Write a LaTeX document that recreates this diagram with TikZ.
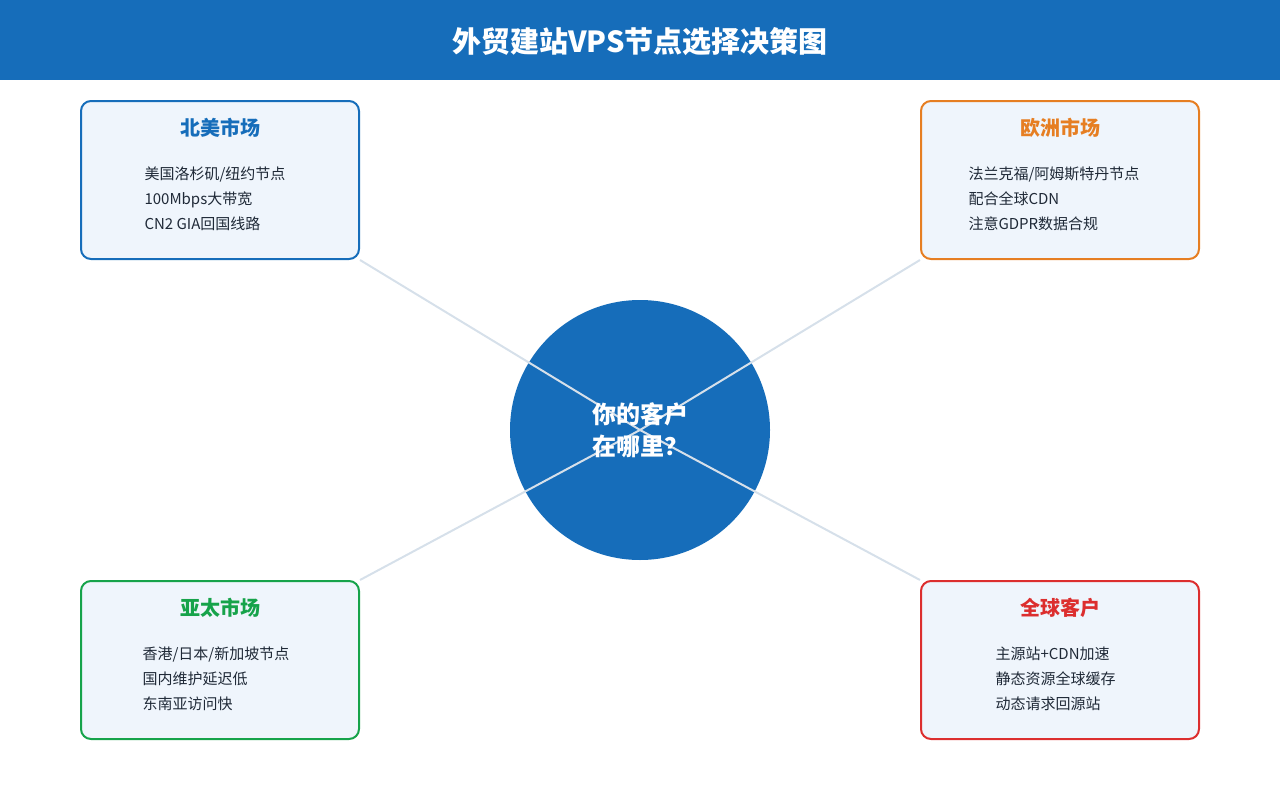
\documentclass[tikz,border=0pt]{standalone}
\usepackage{fontspec}
\setmainfont{Noto Sans CJK SC}
\usetikzlibrary{positioning}
\definecolor{hdrblue}{HTML}{166DBA}
\definecolor{nablue}{HTML}{166DBA}
\definecolor{euorange}{HTML}{E67E22}
\definecolor{apgreen}{HTML}{16A34A}
\definecolor{glred}{HTML}{DC2E2E}
\definecolor{boxfill}{HTML}{EFF5FC}
\definecolor{linkgray}{HTML}{D6E0EA}
\definecolor{bodytext}{HTML}{1F2937}
\begin{document}
\begin{tikzpicture}[
        x=1pt, y=-1pt,
        market/.style={
            draw,
            line width=2pt,
            rounded corners=10pt,
            fill=boxfill,
            minimum width=278pt,
            minimum height=158pt
        },
        heading/.style={font=\bfseries\fontsize{20}{24}\selectfont},
        items/.style={align=left, text=bodytext, font=\fontsize{15}{25}\selectfont},
        link/.style={draw=linkgray, line width=2pt}
    ]
    \useasboundingbox (0,0) rectangle (1280,800);
    \fill[hdrblue] (0,0) rectangle (1280,80);
    \node[text=white, font=\bfseries\fontsize{29}{34}\selectfont] (title) at (640,42) {外贸建站VPS节点选择决策图};

    \node[circle, fill=hdrblue, minimum size=260pt, inner sep=0pt] (hub) at (640,430) {};

    \node[market, draw=nablue] (na) at (220,180) {};
    \node[market, draw=euorange] (eu) at (1060,180) {};
    \node[market, draw=apgreen] (ap) at (220,660) {};
    \node[market, draw=glred] (gl) at (1060,660) {};

    \draw[link] (na.south east) -- (hub.center);
    \draw[link] (eu.south west) -- (hub.center);
    \draw[link] (ap.north east) -- (hub.center);
    \draw[link] (gl.north west) -- (hub.center);

    \node[text=white, align=center, font=\bfseries\fontsize{24}{32}\selectfont] (question) at (hub) {你的客户\\在哪里？};

    \node[heading, text=nablue] (na_title) at (220,128) {北美市场};
    \node[items, anchor=north west] (na_list) at (141,163) {美国洛杉矶/纽约节点\\100Mbps大带宽\\CN2 GIA回国线路};
    \node[heading, text=euorange] (eu_title) at (1060,128) {欧洲市场};
    \node[items, anchor=north west] (eu_list) at (965,163) {法兰克福/阿姆斯特丹节点\\配合全球CDN\\注意GDPR数据合规};
    \node[heading, text=apgreen] (ap_title) at (220,608) {亚太市场};
    \node[items, anchor=north west] (ap_list) at (139,643) {香港/日本/新加坡节点\\国内维护延迟低\\东南亚访问快};
    \node[heading, text=glred] (gl_title) at (1060,608) {全球客户};
    \node[items, anchor=north west] (gl_list) at (992,643) {主源站+CDN加速\\静态资源全球缓存\\动态请求回源站};
\end{tikzpicture}
\end{document}
